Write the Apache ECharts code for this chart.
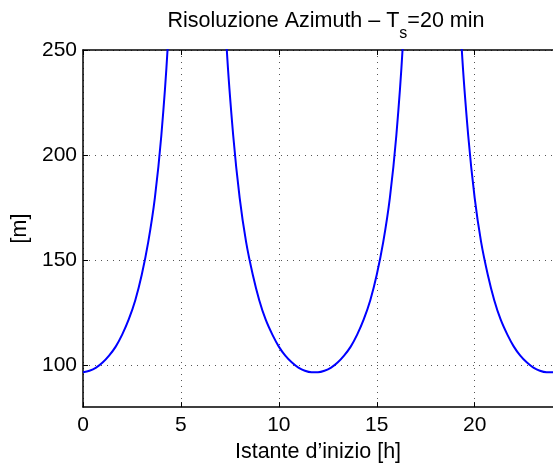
<!DOCTYPE html>
<html><head><meta charset="utf-8">
<script src="https://cdn.jsdelivr.net/npm/echarts@6/dist/echarts.min.js"></script>
<style>html,body{margin:0;padding:0;background:#fff}#c{width:553px;height:468px}</style>
</head><body><div id="c"></div>
<script>
// Start time [h] (20-min sampling)
const hours = [0,0.33,0.67,1,1.33,1.67,2,2.33,2.67,3,3.33,3.67,4,4.33,4.67,5,5.33,5.67,
  6,6.33,6.67,7,7.33,7.67,8,8.33,8.67,9,9.33,9.67,10,10.33,10.67,11,11.33,11.67,
  12,12.33,12.67,13,13.33,13.67,14,14.33,14.67,15,15.33,15.67,16,16.33,16.67,17,17.33,17.67,
  18,18.33,18.67,19,19.33,19.67,20,20.33,20.67,21,21.33,21.67,22,22.33,22.67,23,23.33,23.67,24];
// Azimuth resolution [m]
const resolution = [96.6,97.3,98.8,101.2,104.5,108.8,114.5,121.6,130.9,143.0,158.5,179.6,209.3,252.2,320.9,447.6,739,2200,
  2200,739,447.6,320.9,252.2,209.3,179.6,158.5,143.0,130.9,121.6,114.5,108.8,104.5,101.2,98.8,97.3,96.6,
  96.6,97.3,98.8,101.2,104.5,108.8,114.5,121.6,130.9,143.0,158.5,179.6,209.3,252.2,320.9,447.6,739,2200,
  2200,739,447.6,320.9,252.2,209.3,179.6,158.5,143.0,130.9,121.6,114.5,108.8,104.5,101.2,98.8,97.3,96.6,
  96.6];
const xTicks = [0,5,10,15,20];
const yTicks = [100,150,200,250];

const FONT = '"Liberation Sans", Arial, Helvetica, sans-serif';
const chart = echarts.init(document.getElementById('c'), null, {renderer:'canvas'});
const gridLine = {show:true, lineStyle:{color:'#555', width:1, type:[1,5]}};
const axisLineStyle = {color:'#000', width:1.5};
chart.setOption({
  animation:false,
  backgroundColor:'#fff',
  title:{
    text:'{a|Risoluzione Azimuth – T}{s|s}{a|=20 min}',
    left:321, top:5, textAlign:'center',
    textStyle:{fontWeight:'normal', rich:{
      a:{fontFamily:FONT, fontSize:21.5, fontWeight:'normal', color:'#000', lineHeight:22, verticalAlign:'top'},
      s:{fontFamily:FONT, fontSize:16, fontWeight:'normal', color:'#000', lineHeight:16, verticalAlign:'top', padding:[16,0,0,0]}
    }}
  },
  grid:{left:83, top:50, right:-8, bottom:56.5, containLabel:false},
  xAxis:[{
    type:'value', min:0, max:24, interval:5,
    name:'Istante d’inizio [h]', nameLocation:'middle', nameGap:31,
    nameTextStyle:{fontFamily:FONT, fontSize:21.5, color:'#000'},
    axisLine:{show:true, onZero:false, lineStyle:axisLineStyle},
    axisTick:{show:true, inside:true, length:5, lineStyle:{color:'#000', width:1}, customValues:xTicks},
    axisLabel:{fontFamily:FONT, fontSize:21, color:'#000', margin:8, customValues:xTicks},
    splitLine:gridLine
  },{
    type:'value', min:0, max:24, interval:5, position:'top',
    axisLine:{show:true, onZero:false, lineStyle:axisLineStyle},
    axisTick:{show:true, inside:true, length:5, lineStyle:{color:'#000', width:1}, customValues:xTicks},
    axisLabel:{show:false}, splitLine:{show:false}
  }],
  yAxis:[{
    type:'value', min:80, max:250, interval:50,
    name:'[m]', nameLocation:'middle', nameGap:47,
    nameTextStyle:{fontFamily:FONT, fontSize:21.5, color:'#000'},
    axisLine:{show:true, onZero:false, lineStyle:axisLineStyle},
    axisTick:{show:true, inside:true, length:5, lineStyle:{color:'#000', width:1}, customValues:yTicks},
    axisLabel:{fontFamily:FONT, fontSize:21, color:'#000', margin:6, customValues:yTicks},
    splitLine:gridLine
  }],
  series:[{
    type:'line', xAxisIndex:0, yAxisIndex:0,
    data:hours.map((h,i)=>[h, resolution[i]]),
    showSymbol:false, symbol:'none', clip:true,
    smooth:0.35,
    lineStyle:{color:'#0000ff', width:2}
  }]
});
</script>
</body></html>
